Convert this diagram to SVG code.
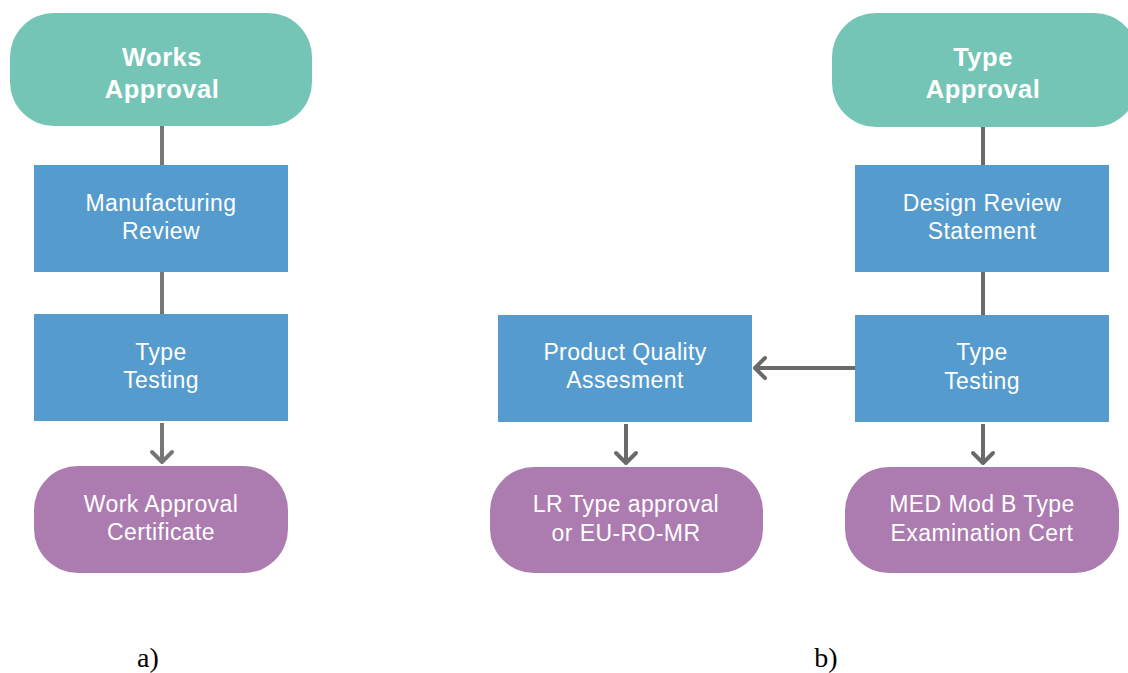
<svg xmlns="http://www.w3.org/2000/svg" width="1128" height="673" viewBox="0 0 1128 673">
  <style>
    .start { fill: #74c5b6; }
    .step { fill: #559bce; }
    .end { fill: #ac7bb0; }
    .t { font-family: "Liberation Sans", Arial, Helvetica, sans-serif; font-size: 23px; letter-spacing: 0.4px; fill: #ffffff; text-anchor: middle; }
    .tb { font-family: "Liberation Sans", Arial, Helvetica, sans-serif; font-size: 25.5px; font-weight: bold; letter-spacing: 0.5px; fill: #ffffff; text-anchor: middle; }
    .cap { font-family: "Liberation Serif", "Times New Roman", serif; font-size: 28px; fill: #000000; text-anchor: middle; }
    .ln { fill: none; stroke: #6a6a6a; stroke-width: 4; }
    .lnA { fill: none; stroke: #777777; stroke-width: 4; }
    .head { fill: none; stroke-width: 4; stroke-linecap: round; stroke-linejoin: round; }
  </style>

  <!-- connectors -->
  <g id="connectors">
    <!-- a) Works approval chain -->
    <line class="lnA" x1="162" y1="126" x2="162" y2="165"/>
    <line class="lnA" x1="162" y1="272" x2="162" y2="314"/>
    <line class="lnA" x1="162" y1="423" x2="162" y2="462"/>
    <polyline class="head" stroke="#777777" points="152,452 162,462 172,452"/>
    <!-- b) Type approval chain -->
    <line class="ln" x1="983" y1="126" x2="983" y2="165"/>
    <line class="ln" x1="983" y1="272" x2="983" y2="315"/>
    <line class="ln" x1="983" y1="424" x2="983" y2="463"/>
    <polyline class="head" stroke="#6a6a6a" points="973,453 983,463 993,453"/>
    <line class="ln" x1="855" y1="368" x2="755" y2="368"/>
    <polyline class="head" stroke="#6a6a6a" points="765,358 755,368 765,378"/>
    <line class="ln" x1="626" y1="424" x2="626" y2="463"/>
    <polyline class="head" stroke="#6a6a6a" points="616,453 626,463 636,453"/>
  </g>

  <!-- a) Works approval -->
  <g id="works-approval">
    <rect class="start" x="10" y="13" width="302" height="113" rx="44" ry="44"/>
    <text class="tb" x="162" y="66">Works</text>
    <text class="tb" x="162" y="98">Approval</text>
  </g>
  <g id="manufacturing-review">
    <rect class="step" x="34" y="165" width="254" height="107"/>
    <text class="t" x="161" y="211">Manufacturing</text>
    <text class="t" x="161" y="239">Review</text>
  </g>
  <g id="type-testing-a">
    <rect class="step" x="34" y="314" width="254" height="107"/>
    <text class="t" x="161" y="360">Type</text>
    <text class="t" x="161" y="388">Testing</text>
  </g>
  <g id="work-approval-certificate">
    <rect class="end" x="34" y="466" width="254" height="107" rx="44" ry="44"/>
    <text class="t" x="161" y="512">Work Approval</text>
    <text class="t" x="161" y="540">Certificate</text>
  </g>

  <!-- b) Type approval -->
  <g id="type-approval">
    <rect class="start" x="832" y="13" width="306" height="114" rx="44" ry="44"/>
    <text class="tb" x="983" y="66">Type</text>
    <text class="tb" x="983" y="98">Approval</text>
  </g>
  <g id="design-review-statement">
    <rect class="step" x="855" y="165" width="254" height="107"/>
    <text class="t" x="982" y="211">Design Review</text>
    <text class="t" x="982" y="239">Statement</text>
  </g>
  <g id="type-testing-b">
    <rect class="step" x="855" y="315" width="254" height="107"/>
    <text class="t" x="982" y="360">Type</text>
    <text class="t" x="982" y="389">Testing</text>
  </g>
  <g id="product-quality-assesment">
    <rect class="step" x="498" y="315" width="254" height="107"/>
    <text class="t" x="625" y="360">Product Quality</text>
    <text class="t" x="625" y="388">Assesment</text>
  </g>
  <g id="lr-type-approval">
    <rect class="end" x="490" y="467" width="273" height="106" rx="44" ry="44"/>
    <text class="t" x="626" y="512">LR Type approval</text>
    <text class="t" x="626" y="541">or EU-RO-MR</text>
  </g>
  <g id="med-mod-b">
    <rect class="end" x="845" y="467" width="274" height="106" rx="44" ry="44"/>
    <text class="t" x="982" y="512">MED Mod B Type</text>
    <text class="t" x="982" y="541">Examination Cert</text>
  </g>

  <!-- captions -->
  <text class="cap" x="148" y="667">a)</text>
  <text class="cap" x="826" y="667">b)</text>
</svg>
